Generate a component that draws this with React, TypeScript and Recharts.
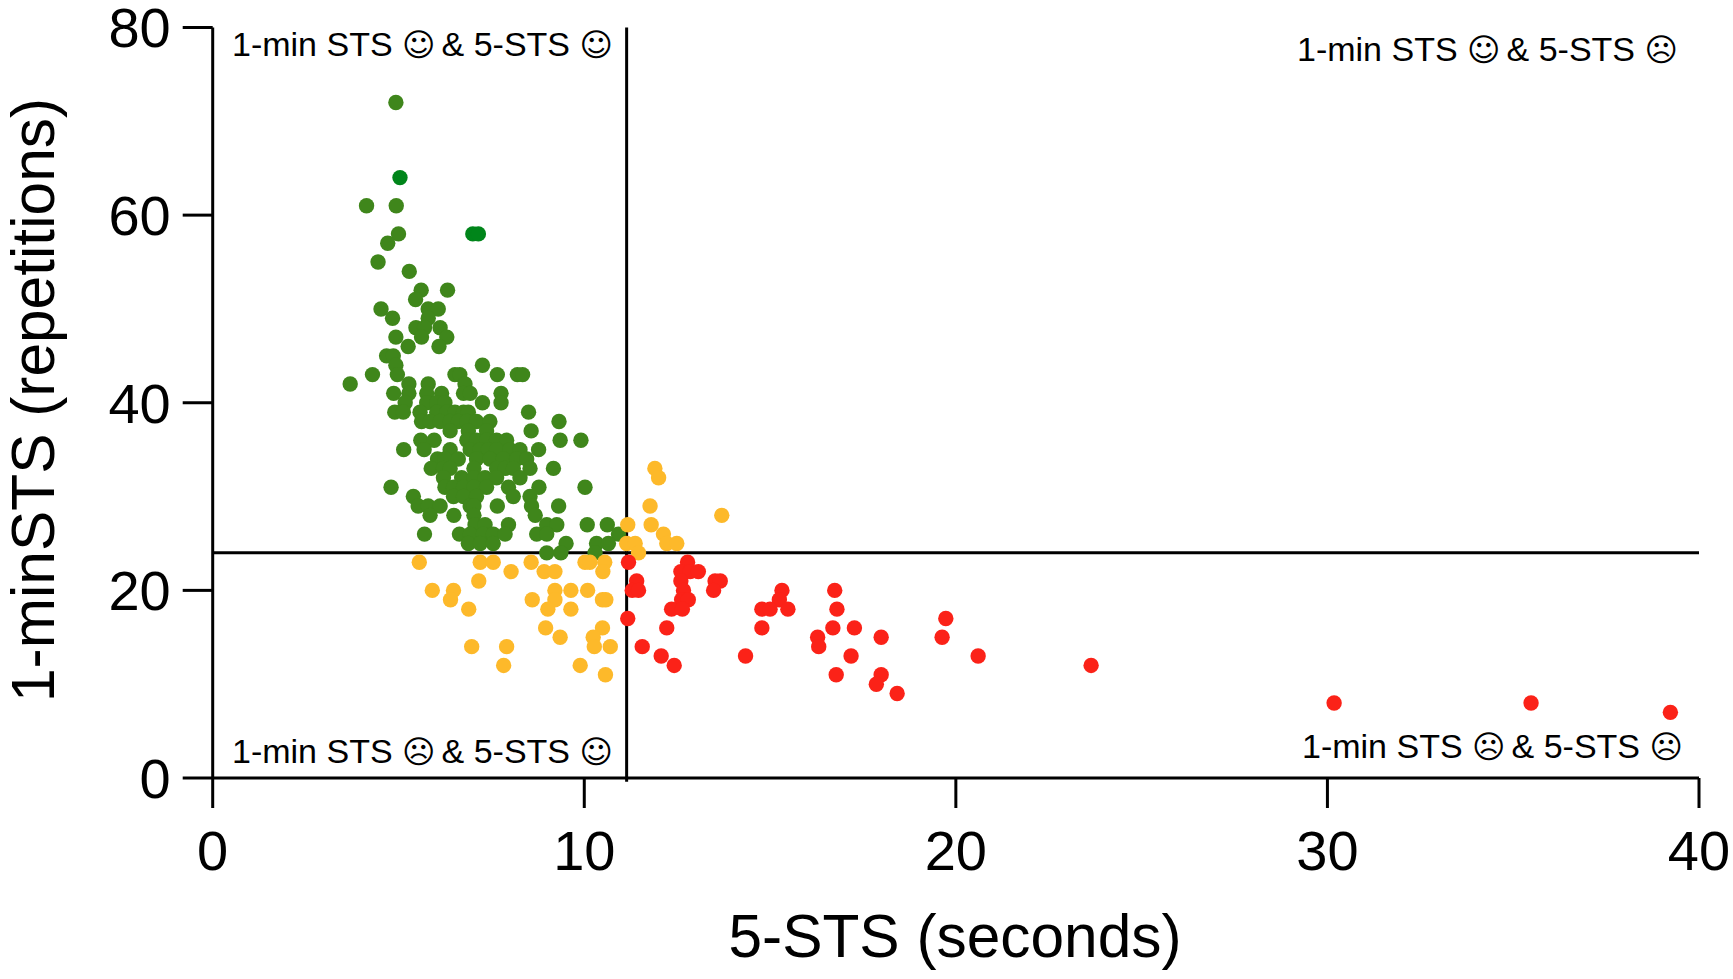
import { ScatterChart, Scatter, XAxis, YAxis, ReferenceLine } from 'recharts';

const xTicks = [0, 10, 20, 30, 40];
const yTicks = [0, 20, 40, 60, 80];
const cutX = 11.14;
const cutY = 24;

// [seconds, repetitions], one line per repetition count
const greenPoints: number[][] = [
  [4.93, 72], [4.14, 61], [4.94, 61], [5.0, 58], [4.71, 57], [4.45, 55], [5.29, 54],
  [5.61, 52], [6.32, 52], [5.46, 51], [4.53, 50], [5.8, 50], [6.07, 50],
  [4.84, 49], [5.8, 49], [5.47, 48], [5.7, 48], [6.12, 48],
  [4.93, 47], [5.62, 47], [6.3, 47], [5.26, 46], [6.09, 46], [4.68, 45], [4.86, 45],
  [4.93, 44], [7.26, 44],
  [4.3, 43], [4.97, 43], [6.52, 43], [6.65, 43], [7.66, 43], [8.2, 43], [8.34, 43],
  [3.7, 42], [5.28, 42], [5.8, 42], [6.79, 42],
  [4.87, 41], [5.28, 41], [5.76, 41], [6.16, 41], [6.75, 41], [6.93, 41], [7.76, 41],
  [5.18, 40], [5.76, 40], [6.03, 40], [6.25, 40], [7.26, 40], [7.76, 40],
  [4.9, 39], [5.13, 39], [5.58, 39], [6.03, 39], [6.3, 39], [6.52, 39], [6.75, 39], [6.88, 39], [8.5, 39],
  [5.62, 38], [5.85, 38], [6.12, 38], [6.39, 38], [6.61, 38], [6.84, 38], [7.1, 38], [7.46, 38], [9.32, 38],
  [6.39, 37], [6.88, 37], [7.37, 37], [8.57, 37],
  [5.6, 36], [5.96, 36], [6.84, 36], [7.1, 36], [7.37, 36], [7.64, 36], [7.91, 36], [9.35, 36], [9.91, 36],
  [5.14, 35], [5.69, 35], [6.39, 35], [6.93, 35], [7.2, 35], [7.42, 35], [7.64, 35], [8.0, 35], [8.27, 35], [8.77, 35],
  [6.05, 34], [6.25, 34], [6.61, 34], [7.1, 34], [7.46, 34], [7.82, 34], [8.18, 34], [8.45, 34],
  [5.88, 33], [6.21, 33], [6.39, 33], [7.03, 33], [7.64, 33], [7.87, 33], [8.09, 33], [8.54, 33], [9.17, 33],
  [6.21, 32], [6.7, 32], [7.03, 32], [7.33, 32], [7.64, 32], [8.27, 32],
  [4.8, 31], [6.25, 31], [6.48, 31], [6.75, 31], [7.03, 31], [7.37, 31], [7.96, 31], [8.78, 31], [10.02, 31],
  [5.4, 30], [6.48, 30], [6.75, 30], [7.1, 30], [8.09, 30], [8.54, 30],
  [5.53, 29], [5.8, 29], [6.12, 29], [6.93, 29], [7.03, 29], [7.66, 29], [8.58, 29], [9.31, 29],
  [5.85, 28], [6.49, 28], [7.03, 28], [8.68, 28],
  [7.06, 27], [7.33, 27], [7.96, 27], [8.99, 27], [9.26, 27], [10.08, 27], [10.62, 27],
  [5.7, 26], [6.64, 26], [6.93, 26], [7.28, 26], [7.55, 26], [7.87, 26], [8.72, 26], [8.99, 26], [10.92, 26],
  [6.88, 25], [7.2, 25], [7.55, 25], [9.51, 25], [10.33, 25], [10.65, 25],
  [8.99, 24], [9.37, 24], [10.29, 24],
];

const darkGreenPoints: number[][] = [[5.04, 64], [7.0, 58], [7.15, 58]];

const yellowPoints: number[][] = [
  [11.9, 33], [12.0, 32], [11.77, 29], [13.7, 28], [11.17, 27], [11.8, 27], [12.13, 26],
  [11.14, 25], [11.37, 25], [12.22, 25], [12.49, 25], [11.46, 24],
  [5.56, 23], [7.2, 23], [7.55, 23], [8.57, 23], [10.02, 23], [10.15, 23], [10.55, 23],
  [8.03, 22], [8.92, 22], [9.21, 22], [10.5, 22], [7.16, 21],
  [5.91, 20], [6.48, 20], [9.21, 20], [9.64, 20], [10.09, 20],
  [6.4, 19], [8.6, 19], [9.21, 19], [10.49, 19], [10.58, 19],
  [6.89, 18], [9.02, 18], [9.64, 18], [8.96, 16], [10.49, 16], [9.35, 15], [10.24, 15],
  [6.97, 14], [7.91, 14], [10.27, 14], [10.7, 14], [7.83, 12], [9.89, 12], [10.57, 11],
];

const redPoints: number[][] = [
  [11.19, 23], [12.78, 23], [12.6, 22], [12.85, 22], [13.07, 22],
  [11.41, 21], [12.6, 21], [13.52, 21], [13.66, 21],
  [11.29, 20], [11.46, 20], [12.67, 20], [13.48, 20], [15.32, 20], [16.74, 20],
  [12.62, 19], [12.8, 19], [15.25, 19],
  [12.35, 18], [12.64, 18], [14.78, 18], [15.0, 18], [15.48, 18], [16.8, 18],
  [11.17, 17], [19.73, 17], [12.22, 16], [14.78, 16], [16.69, 16], [17.27, 16],
  [16.28, 15], [17.99, 15], [19.63, 15], [11.56, 14], [16.31, 14],
  [12.07, 13], [14.34, 13], [17.18, 13], [20.6, 13], [12.42, 12], [23.64, 12],
  [16.78, 11], [17.99, 11], [17.86, 10], [18.42, 9],
  [30.18, 8], [35.48, 8], [39.23, 7],
];

const toRows = (pts: number[][]) => pts.map(([x, y]) => ({ x, y }));

const font = '"Liberation Sans", Arial, sans-serif';
const dotRadius = 7.7;

const dot = (color: string) => (props: any) => (
  <circle cx={props.cx} cy={props.cy} r={dotRadius} fill={color} />
);

const quadrantStyle = { fontFamily: font, fontSize: 34, fill: '#000' };
const titleStyle = { fontFamily: font, fontSize: 60.4, fill: '#000' };
const tickStyle = { fontFamily: font, fontSize: 56, fill: '#000' };
const axisLine = { stroke: '#000', strokeWidth: 3 };

const Face = ({ glyph }: { glyph: string }) => (
  <tspan fontFamily="DejaVu Sans" fontSize={32}>{glyph}</tspan>
);

const QuadrantLabel = ({ x, y, first, second }: { x: number; y: number; first: string; second: string }) => (
  <text x={x} y={y} {...quadrantStyle}>
    1-min STS <Face glyph={first} /><tspan fontSize={22}>{' '}</tspan>&amp; 5-STS <Face glyph={second} />
  </text>
);

export default function App() {
  return (
    <div style={{ position: 'absolute', left: 0, top: 0, width: 1733, height: 979, background: '#fff' }}>
      <ScatterChart width={1733} height={979} margin={{ top: 27.5, right: 34, bottom: 0, left: 0 }}>
        <XAxis
          type="number"
          dataKey="x"
          domain={[0, 40]}
          ticks={xTicks}
          interval={0}
          tickSize={30}
          tickMargin={22}
          height={201}
          axisLine={axisLine}
          tickLine={axisLine}
          tick={tickStyle}
        />
        <YAxis
          type="number"
          dataKey="y"
          domain={[0, 80]}
          ticks={yTicks}
          interval={0}
          tickSize={30}
          tickMargin={12}
          width={212.7}
          axisLine={axisLine}
          tickLine={axisLine}
          tick={tickStyle}
        />
        <ReferenceLine y={cutY} stroke="#000" strokeWidth={3} />
        <ReferenceLine
          segment={[{ x: cutX, y: -0.4 }, { x: cutX, y: 80 }]}
          ifOverflow="visible"
          stroke="#000"
          strokeWidth={3}
        />
        <Scatter data={toRows(greenPoints)} shape={dot('#3f861b')} isAnimationActive={false} />
        <Scatter data={toRows(darkGreenPoints)} shape={dot('#00851a')} isAnimationActive={false} />
        <Scatter data={toRows(yellowPoints)} shape={dot('#fdb92a')} isAnimationActive={false} />
        <Scatter data={toRows(redPoints)} shape={dot('#fb2218')} isAnimationActive={false} />
        <QuadrantLabel x={232} y={56} first="☺" second="☺" />
        <QuadrantLabel x={1297} y={61} first="☺" second="☹" />
        <QuadrantLabel x={232} y={763} first="☹" second="☺" />
        <QuadrantLabel x={1302} y={758} first="☹" second="☹" />
        <text x={955} y={957} textAnchor="middle" {...titleStyle}>5-STS (seconds)</text>
        <text x={54} y={400} textAnchor="middle" transform="rotate(-90 54 400)" {...titleStyle}>1-minSTS (repetitions)</text>
      </ScatterChart>
    </div>
  );
}
